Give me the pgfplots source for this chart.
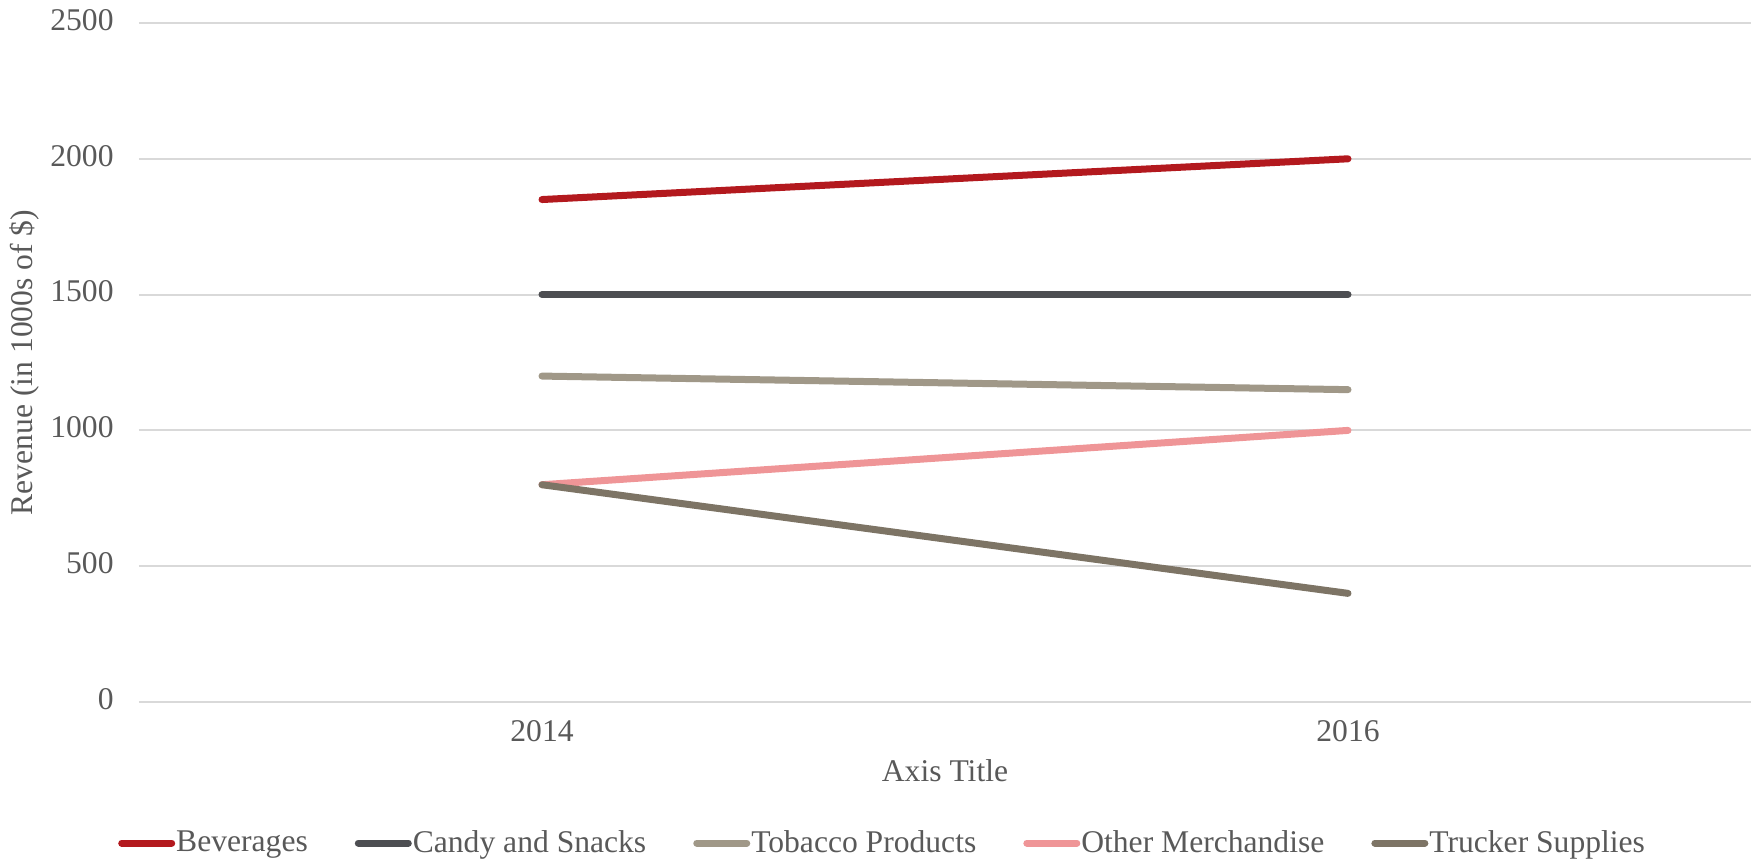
\documentclass[border=0pt]{standalone}
\usepackage{fontspec}
\setmainfont{Liberation Serif}
\usepackage{pgfplots}
\pgfplotsset{compat=1.18}
\definecolor{txt}{HTML}{595959}
\definecolor{gridc}{HTML}{D9D9D9}
\definecolor{cBev}{HTML}{B3191E}
\definecolor{cCandy}{HTML}{4D4E52}
\definecolor{cTob}{HTML}{A09888}
\definecolor{cOther}{HTML}{EF9597}
\definecolor{cTruck}{HTML}{7D7465}
\begin{document}
\begin{tikzpicture}
\path[use as bounding box] (-69.5pt,-80pt) rectangle (809.5pt,351pt);
\begin{axis}[
  at={(0,0)}, anchor=south west,
  scale only axis,
  width=806pt, height=339.5pt,
  xmin=-0.5, xmax=1.5,
  ymin=0, ymax=2500,
  xtick={0,1}, xticklabels={2014,2016},
  ytick={0,500,1000,1500,2000,2500},
  ymajorgrids,
  grid style={gridc, line width=1pt},
  axis line style={draw=none},
  major tick length=0pt,
  font=\fontsize{15.8}{19}\selectfont,
  /pgf/number format/assume math mode=true,
  /pgf/number format/1000 sep={},
  tick label style={text=txt, font=\fontsize{15.8}{19}\selectfont},
  yticklabel style={inner sep=0pt, anchor=east, xshift=-12.5pt, yshift=1.5pt},
  xticklabel style={inner sep=0pt, anchor=north, yshift=-9pt},
  xlabel={Axis Title},
  ylabel={Revenue (in 1000s of \$)},
  every axis x label/.style={at={(axis description cs:0.5,-0.1016)}, anchor=center, text=txt},
  every axis y label/.style={at={(axis description cs:-0.0713,0.5)}, rotate=90, anchor=center, text=txt},
  legend columns=5,
  legend style={at={(axis description cs:0.461,-0.2077)}, anchor=center, draw=none, fill=none,
    text=txt, font=\fontsize{15.8}{19}\selectfont,
    nodes={inner xsep=0.5pt},
    /tikz/every even column/.append style={column sep=23pt}},
  legend image code/.code={\draw[#1, line cap=round] (0pt,0pt) -- (25pt,0pt);},
  every axis plot/.append style={line width=3.5pt, line cap=round, line join=round},
  clip=false,
]
\addplot[cBev] coordinates {(0,1850) (1,2000)};
\addlegendentry{Beverages}
\addplot[cCandy] coordinates {(0,1500) (1,1500)};
\addlegendentry{Candy and Snacks}
\addplot[cTob] coordinates {(0,1200) (1,1150)};
\addlegendentry{Tobacco Products}
\addplot[cOther] coordinates {(0,800) (1,1000)};
\addlegendentry{Other Merchandise}
\addplot[cTruck] coordinates {(0,800) (1,400)};
\addlegendentry{Trucker Supplies}
\end{axis}
\end{tikzpicture}
\end{document}
